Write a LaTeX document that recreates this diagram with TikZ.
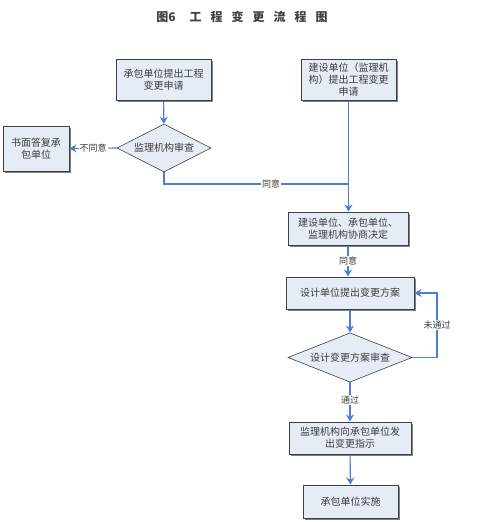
\documentclass[tikz,border=0pt]{standalone}
\usepackage{fontspec}
\setmainfont{Noto Sans CJK SC}
\XeTeXlinebreaklocale "zh"
\usepackage{xcolor}
\usepackage{tikz}
\usetikzlibrary{arrows.meta,shapes.geometric,shadows}
\definecolor{flowblue}{RGB}{74,126,208}
\definecolor{boxfill}{RGB}{230,236,246}
\definecolor{textgray}{RGB}{60,60,60}

\begin{document}
\begin{tikzpicture}[x=1pt,y=-1pt,
  procbox/.style={draw=black!75,line width=1pt,fill=boxfill,font=\fontsize{10}{12}\selectfont,text=textgray,align=center,inner sep=1pt,drop shadow={shadow xshift=1.5pt,shadow yshift=-1.5pt,fill=black!50,opacity=1}},
  checkbox/.style={diamond,draw=black!75,line width=0.6pt,fill=boxfill,font=\fontsize{10}{12}\selectfont,text=textgray,aspect=2,inner sep=0pt},
  flow/.style={flowblue,line width=1.1pt,-{Stealth[length=7pt,width=8pt]}},
  flowline/.style={flowblue,line width=1.1pt},
  lab/.style={fill=white,inner sep=1pt,font=\fontsize{9}{10}\selectfont,text=textgray}]
  \useasboundingbox (0,0) rectangle (478,522);
  \node[font=\fontsize{12}{14}\selectfont\bfseries,text=black!75] (title) at (242,17) {图6\hspace{14pt}{\addfontfeature{LetterSpace=75}工程变更流程图}};
  \node[procbox,minimum width=95pt,minimum height=41pt] (req) at (163.5,80) {承包单位提出工程\\变更申请};
  \node[checkbox,minimum width=94pt,minimum height=48pt] (chk) at (164,148) {监理机构审查};
  \node[procbox,minimum width=66pt,minimum height=45pt] (reply) at (36,148.5) {书面答复承\\包单位};
  \node[procbox,minimum width=95pt,minimum height=41pt] (owner) at (348.5,80) {建设单位（监理机\\构）提出工程变更\\申请};
  \node[procbox,minimum width=120pt,minimum height=33pt] (joint) at (348,228.5) {建设单位、承包单位、\\监理机构协商决定};
  \node[procbox,minimum width=128pt,minimum height=32pt] (design) at (350,293) {设计单位提出变更方案};
  \node[checkbox,minimum width=124pt,minimum height=49pt] (review) at (350,357.5) {设计变更方案审查};
  \node[procbox,minimum width=122pt,minimum height=32pt] (order) at (350,438) {监理机构向承包单位发\\出变更指示};
  \node[procbox,minimum width=95pt,minimum height=33pt] (build) at (350.5,501.5) {承包单位实施};
  \coordinate (join) at (owner.south |- 0,184);
  \coordinate (back) at (437,357.5);
  \draw[flow] (req) -- (chk);
  \draw[flow] (chk.west) -- node[lab] {不同意} (reply.east);
  \draw[flowline] (chk.south) |- node[lab,pos=0.79] {同意} (join);
  \draw[flow] (owner.south) -- (owner.south |- joint.north);
  \draw[flow] (joint.south) -- node[lab] {同意} (design.north -| joint.south);
  \draw[flow] (design) -- (review);
  \draw[flow] (review.east) -- (back) |- node[lab,pos=0.25] {未通过} (design.east);
  \draw[flow] (review.south) -- node[lab,pos=0.45] {通过} (order.north);
  \draw[flow] (order) -- (build);
\end{tikzpicture}
\end{document}
